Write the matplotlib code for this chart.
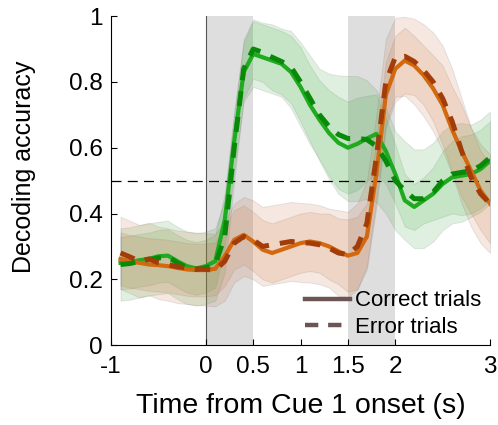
import numpy as np
import matplotlib
matplotlib.use('Agg')
import matplotlib.pyplot as plt

plt.rcParams.update({'font.family': ['Liberation Sans', 'DejaVu Sans'],
                     'font.size': 18})

# time axis (s), one sample every 100 ms
t = np.round(np.arange(-0.9, 3.001, 0.1), 1)

# decoding accuracy, green = cue decoder, orange = second decoder
green_correct = [0.250, 0.252, 0.258, 0.262, 0.270, 0.272, 0.255, 0.240, 0.233, 0.240,
                 0.255, 0.380, 0.620, 0.830, 0.885, 0.875, 0.865, 0.855, 0.830, 0.785,
                 0.730, 0.685, 0.645, 0.615, 0.600, 0.612, 0.628, 0.642, 0.590, 0.520,
                 0.440, 0.420, 0.440, 0.460, 0.490, 0.510, 0.515, 0.520, 0.535, 0.560]
green_error = [0.245, 0.248, 0.255, 0.260, 0.265, 0.268, 0.250, 0.235, 0.230, 0.235,
               0.245, 0.330, 0.600, 0.840, 0.900, 0.890, 0.875, 0.862, 0.845, 0.800,
               0.750, 0.700, 0.665, 0.640, 0.628, 0.628, 0.625, 0.605, 0.560, 0.500,
               0.470, 0.445, 0.445, 0.465, 0.500, 0.520, 0.525, 0.530, 0.545, 0.570]
orange_correct = [0.262, 0.255, 0.250, 0.245, 0.243, 0.240, 0.235, 0.230, 0.228, 0.228,
                  0.232, 0.270, 0.320, 0.335, 0.315, 0.290, 0.280, 0.290, 0.300, 0.310,
                  0.315, 0.310, 0.300, 0.285, 0.272, 0.280, 0.330, 0.520, 0.760, 0.840,
                  0.865, 0.850, 0.820, 0.780, 0.730, 0.655, 0.590, 0.530, 0.470, 0.430]
orange_error = [0.280, 0.268, 0.255, 0.262, 0.250, 0.245, 0.238, 0.235, 0.232, 0.230,
                0.228, 0.255, 0.310, 0.330, 0.320, 0.300, 0.305, 0.310, 0.315, 0.312,
                0.310, 0.305, 0.295, 0.280, 0.275, 0.300, 0.370, 0.570, 0.800, 0.875,
                0.878, 0.862, 0.835, 0.800, 0.750, 0.680, 0.590, 0.510, 0.460, 0.430]

# band half widths
green_correct_sem = [0.08, 0.08, 0.08, 0.08, 0.08, 0.08, 0.08, 0.08, 0.08, 0.08,
                     0.08, 0.08, 0.09, 0.09, 0.10, 0.10, 0.10, 0.10, 0.11, 0.12,
                     0.12, 0.12, 0.13, 0.14, 0.14, 0.14, 0.13, 0.12, 0.10, 0.09,
                     0.08, 0.07, 0.07, 0.08, 0.10, 0.11, 0.12, 0.12, 0.12, 0.12]
green_error_sem = [0.11, 0.11, 0.11, 0.11, 0.11, 0.11, 0.11, 0.11, 0.11, 0.11,
                   0.11, 0.11, 0.10, 0.09, 0.09, 0.09, 0.10, 0.10, 0.11, 0.12,
                   0.13, 0.14, 0.16, 0.18, 0.19, 0.19, 0.18, 0.17, 0.16, 0.15,
                   0.15, 0.15, 0.15, 0.15, 0.15, 0.15, 0.15, 0.14, 0.14, 0.14]
orange_correct_sem = [0.08, 0.08, 0.08, 0.08, 0.08, 0.08, 0.08, 0.08, 0.08, 0.08,
                      0.08, 0.09, 0.09, 0.09, 0.09, 0.09, 0.09, 0.09, 0.09, 0.09,
                      0.09, 0.09, 0.10, 0.10, 0.11, 0.11, 0.10, 0.10, 0.10, 0.10,
                      0.10, 0.09, 0.09, 0.10, 0.12, 0.13, 0.14, 0.13, 0.12, 0.12]
orange_error_sem = [0.11, 0.11, 0.11, 0.11, 0.11, 0.11, 0.11, 0.11, 0.11, 0.11,
                    0.11, 0.12, 0.12, 0.12, 0.12, 0.12, 0.12, 0.12, 0.12, 0.12,
                    0.12, 0.12, 0.12, 0.13, 0.13, 0.13, 0.13, 0.13, 0.13, 0.12,
                    0.12, 0.13, 0.14, 0.15, 0.16, 0.16, 0.16, 0.15, 0.15, 0.15]

xticks = [-1, 0, 0.5, 1, 1.5, 2, 3]
xticklabels = ['-1', '0', '0.5', '1', '1.5', '2', '3']
yticks = [0, 0.2, 0.4, 0.6, 0.8, 1]
yticklabels = ['0', '0.2', '0.4', '0.6', '0.8', '1']
cue_windows = [(0, 0.5), (1.5, 2)]

fig = plt.figure(figsize=(4.98, 4.25), dpi=100)
ax = fig.add_axes([0.223, 0.188, 0.761, 0.774])

for a, b in cue_windows:
    ax.axvspan(a, b, color='#dedede', lw=0, zorder=0)
ax.axvline(0, color='#555555', lw=0.8, zorder=1)

series = [
    (green_correct, green_correct_sem, '#1faa1f', '-', (0.25, 0.65, 0.25)),
    (green_error, green_error_sem, '#088a08', '--', (0.25, 0.65, 0.25)),
    (orange_correct, orange_correct_sem, '#d2690f', '-', (0.78, 0.45, 0.25)),
    (orange_error, orange_error_sem, '#a23c08', '--', (0.78, 0.45, 0.25)),
]

for y, s, c, ls, fc in series:
    y = np.array(y)
    s = np.array(s)
    ax.fill_between(t, y - s, y + s, facecolor=fc, alpha=0.16,
                    edgecolor=(0.45, 0.45, 0.45, 0.35), lw=0.7, zorder=2)

ax.axhline(0.5, color='k', lw=0.9, dashes=(8, 5), zorder=3)

for y, s, c, ls, fc in series:
    if ls == '-':
        ax.plot(t, y, color=c, lw=3.0, zorder=4)
    else:
        ax.plot(t, y, color=c, lw=3.6, dashes=(3, 2.2), zorder=5)

# legend proxies
ax.plot([], [], color='#6e5555', lw=3.2, label='Correct trials')
ax.plot([], [], color='#6e5555', lw=3.2, dashes=(3, 2.2), label='Error trials')
ax.legend(loc='center left', bbox_to_anchor=(0.513, 0.094), frameon=False,
          fontsize=16, handlelength=2.0, handletextpad=0.25, labelspacing=0.25,
          borderpad=0, borderaxespad=0)

ax.set_xlim(-1, 3)
ax.set_ylim(0, 1)
ax.set_xticks(xticks)
ax.set_xticklabels(xticklabels)
ax.set_yticks(yticks)
ax.set_yticklabels(yticklabels)
ax.tick_params(direction='in', length=4, width=0.8, labelsize=17.5)
ax.tick_params(axis='x', pad=8)
ax.tick_params(axis='y', pad=6)
for side in ['top', 'right']:
    ax.spines[side].set_visible(False)
ax.spines['left'].set_linewidth(0.8)
ax.spines['bottom'].set_linewidth(0.8)

ax.set_xlabel('Time from Cue 1 onset (s)', fontsize=20.5)
ax.set_ylabel('Decoding accuracy', fontsize=18)
ax.xaxis.set_label_coords(0.5, -0.146)
ax.yaxis.set_label_coords(-0.197, 0.543)

fig.savefig('out.png', dpi=100)
